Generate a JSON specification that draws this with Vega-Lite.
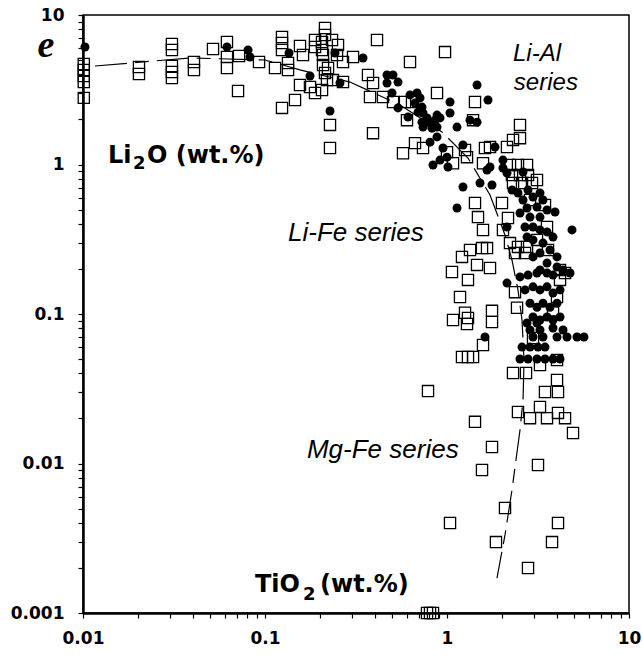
{
  "$schema": "https://vega.github.io/schema/vega-lite/v6.json",
  "width": 546,
  "height": 598,
  "autosize": {"type": "none"},
  "padding": {"left": 83, "top": 15, "right": 13, "bottom": 42},
  "background": "white",
  "config": {
    "view": {"stroke": "black", "strokeWidth": 1.5},
    "axis": {
      "grid": false,
      "domainColor": "black",
      "domainWidth": 2.5,
      "tickColor": "black",
      "tickWidth": 1.2,
      "tickSize": 5,
      "labelColor": "black",
      "labelFont": "DejaVu Sans",
      "labelFontWeight": "bold",
      "labelFontSize": 17,
      "labelFlush": false,
      "labelOverlap": false,
      "title": null
    }
  },
  "datasets": {
    "curve": [
      {"i": 1, "x": 0.01164, "y": 4.56},
      {"i": 2, "x": 0.0387, "y": 5.16},
      {"i": 3, "x": 0.1, "y": 5.0},
      {"i": 4, "x": 0.1557, "y": 4.29},
      {"i": 5, "x": 0.293, "y": 3.56},
      {"i": 6, "x": 0.552, "y": 2.5},
      {"i": 7, "x": 0.939, "y": 1.65},
      {"i": 8, "x": 1.304, "y": 1.105},
      {"i": 9, "x": 1.723, "y": 0.625},
      {"i": 10, "x": 2.083, "y": 0.3376},
      {"i": 11, "x": 2.275, "y": 0.2298},
      {"i": 12, "x": 2.455, "y": 0.1447},
      {"i": 13, "x": 2.583, "y": 0.0912},
      {"i": 14, "x": 2.65, "y": 0.0492},
      {"i": 15, "x": 2.617, "y": 0.0266},
      {"i": 16, "x": 2.518, "y": 0.01675},
      {"i": 17, "x": 2.275, "y": 0.00665},
      {"i": 18, "x": 2.083, "y": 0.00333},
      {"i": 19, "x": 1.882, "y": 0.00171}
    ],
    "squares": [
      {"x": 0.0101, "y": 4.70}, {"x": 0.0101, "y": 4.29}, {"x": 0.0101, "y": 3.91}, {"x": 0.0101, "y": 3.56}, {"x": 0.0101, "y": 2.79},
      {"x": 0.0203, "y": 4.49}, {"x": 0.0203, "y": 4.03},
      {"x": 0.0308, "y": 6.40}, {"x": 0.0308, "y": 5.83}, {"x": 0.0308, "y": 4.56}, {"x": 0.0308, "y": 4.16}, {"x": 0.0308, "y": 3.79},
      {"x": 0.0407, "y": 4.85}, {"x": 0.0407, "y": 4.29},
      {"x": 0.0518, "y": 5.92},
      {"x": 0.0618, "y": 6.60}, {"x": 0.0618, "y": 5.24}, {"x": 0.0618, "y": 4.42},
      {"x": 0.0720, "y": 5.32}, {"x": 0.0711, "y": 3.10},
      {"x": 0.0927, "y": 4.85}, {"x": 0.1135, "y": 4.42},
      {"x": 0.124, "y": 7.13}, {"x": 0.124, "y": 6.50}, {"x": 0.124, "y": 5.83},
      {"x": 0.1338, "y": 4.77}, {"x": 0.1338, "y": 4.29},
      {"x": 0.1557, "y": 6.20}, {"x": 0.1617, "y": 5.40}, {"x": 0.1557, "y": 3.40},
      {"x": 0.1462, "y": 2.70}, {"x": 0.124, "y": 2.39},
      {"x": 0.1767, "y": 3.30}, {"x": 0.1883, "y": 3.01}, {"x": 0.1883, "y": 6.81}, {"x": 0.1883, "y": 6.11},
      {"x": 0.2136, "y": 8.19}, {"x": 0.2136, "y": 7.35}, {"x": 0.2057, "y": 6.60}, {"x": 0.2057, "y": 5.83},
      {"x": 0.2083, "y": 5.40}, {"x": 0.2334, "y": 6.81}, {"x": 0.2083, "y": 4.63}, {"x": 0.2219, "y": 4.42},
      {"x": 0.2136, "y": 4.09}, {"x": 0.2191, "y": 3.67}, {"x": 0.2364, "y": 3.67}, {"x": 0.2683, "y": 3.56},
      {"x": 0.3045, "y": 5.24}, {"x": 0.2057, "y": 3.15}, {"x": 0.2276, "y": 1.84}, {"x": 0.2276, "y": 1.29},
      {"x": 0.3681, "y": 3.97}, {"x": 0.3776, "y": 2.83}, {"x": 0.2683, "y": 4.85}, {"x": 0.2518, "y": 6.30},
      {"x": 0.2487, "y": 5.40}, {"x": 0.4125, "y": 6.81}, {"x": 0.6262, "y": 4.85}, {"x": 0.975, "y": 5.65},
      {"x": 0.3922, "y": 3.51}, {"x": 0.4450, "y": 2.83}, {"x": 0.5050, "y": 2.62}, {"x": 0.5878, "y": 2.62},
      {"x": 0.6423, "y": 2.62}, {"x": 0.8813, "y": 3.01}, {"x": 1.425, "y": 2.62}, {"x": 0.6028, "y": 1.98},
      {"x": 0.3922, "y": 1.62}, {"x": 0.6671, "y": 1.39}, {"x": 0.7382, "y": 1.29}, {"x": 0.5731, "y": 1.19},
      {"x": 1.0, "y": 1.21}, {"x": 1.079, "y": 1.02}, {"x": 1.256, "y": 1.25}, {"x": 1.288, "y": 1.12},
      {"x": 1.577, "y": 1.02}, {"x": 1.617, "y": 1.29}, {"x": 2.518, "y": 1.84}, {"x": 2.518, "y": 1.50},
      {"x": 1.723, "y": 1.31}, {"x": 2.136, "y": 1.31}, {"x": 2.305, "y": 1.46},
      {"x": 2.219, "y": 0.992}, {"x": 2.455, "y": 0.992}, {"x": 2.752, "y": 0.992},
      {"x": 2.276, "y": 0.851}, {"x": 2.518, "y": 0.851}, {"x": 2.787, "y": 0.851},
      {"x": 2.305, "y": 0.752}, {"x": 2.583, "y": 0.752}, {"x": 2.931, "y": 0.752}, {"x": 3.122, "y": 0.788},
      {"x": 1.425, "y": 0.553}, {"x": 1.480, "y": 0.445}, {"x": 1.577, "y": 0.365},
      {"x": 2.005, "y": 0.553}, {"x": 2.163, "y": 0.439}, {"x": 2.030, "y": 0.365},
      {"x": 2.219, "y": 0.298}, {"x": 2.455, "y": 0.281}, {"x": 2.752, "y": 0.281}, {"x": 2.364, "y": 0.256},
      {"x": 2.683, "y": 0.256}, {"x": 3.544, "y": 0.382}, {"x": 4.178, "y": 0.197}, {"x": 4.451, "y": 0.188},
      {"x": 1.338, "y": 0.268}, {"x": 1.209, "y": 0.241}, {"x": 1.557, "y": 0.276}, {"x": 1.659, "y": 0.276},
      {"x": 1.462, "y": 0.213}, {"x": 1.723, "y": 0.203}, {"x": 1.065, "y": 0.191}, {"x": 1.304, "y": 0.169},
      {"x": 1.179, "y": 0.130}, {"x": 1.256, "y": 0.102}, {"x": 1.304, "y": 0.094}, {"x": 1.288, "y": 0.0857},
      {"x": 1.079, "y": 0.0912}, {"x": 1.767, "y": 0.105}, {"x": 1.767, "y": 0.0884}, {"x": 1.577, "y": 0.062},
      {"x": 1.209, "y": 0.0516}, {"x": 1.304, "y": 0.0516}, {"x": 1.390, "y": 0.0516}, {"x": 0.7864, "y": 0.0305},
      {"x": 2.364, "y": 0.140}, {"x": 2.425, "y": 0.110}, {"x": 2.305, "y": 0.0403}, {"x": 2.717, "y": 0.0403},
      {"x": 3.243, "y": 0.0456}, {"x": 4.022, "y": 0.0362}, {"x": 3.455, "y": 0.0301}, {"x": 4.073, "y": 0.0301},
      {"x": 2.455, "y": 0.0221}, {"x": 3.243, "y": 0.0239}, {"x": 2.858, "y": 0.0201}, {"x": 3.544, "y": 0.0201},
      {"x": 4.073, "y": 0.0218}, {"x": 4.451, "y": 0.0201}, {"x": 4.924, "y": 0.016}, {"x": 1.425, "y": 0.019},
      {"x": 1.767, "y": 0.0129}, {"x": 1.557, "y": 0.00904}, {"x": 3.162, "y": 0.00977}, {"x": 2.083, "y": 0.00504},
      {"x": 1.039, "y": 0.004}, {"x": 4.073, "y": 0.004}, {"x": 1.858, "y": 0.00298}, {"x": 3.776, "y": 0.00298},
      {"x": 2.787, "y": 0.002}, {"x": 0.7765, "y": 0.001}, {"x": 0.8065, "y": 0.001}, {"x": 0.8378, "y": 0.001},
      {"x": 4.178, "y": 0.169}, {"x": 4.022, "y": 0.130}, {"x": 3.823, "y": 0.106}, {"x": 2.969, "y": 0.0691},
      {"x": 4.022, "y": 0.0492}, {"x": 2.858, "y": 0.579}, {"x": 3.455, "y": 0.536}, {"x": 3.122, "y": 0.313},
      {"x": 3.589, "y": 0.268}, {"x": 1.390, "y": 1.98}
    ],
    "circles": [
      {"x": 0.01025, "y": 6.11}, {"x": 0.0618, "y": 6.11}, {"x": 0.0807, "y": 5.83}, {"x": 0.0827, "y": 5.24},
      {"x": 0.1355, "y": 5.57}, {"x": 0.1767, "y": 3.91}, {"x": 0.2425, "y": 5.57}, {"x": 0.2582, "y": 3.51},
      {"x": 0.3455, "y": 5.16}, {"x": 0.2276, "y": 2.28}, {"x": 0.468, "y": 3.97}, {"x": 0.505, "y": 3.97},
      {"x": 0.5381, "y": 3.56}, {"x": 0.468, "y": 3.51}, {"x": 0.4987, "y": 3.01}, {"x": 0.5381, "y": 2.39},
      {"x": 0.6105, "y": 2.08}, {"x": 0.6262, "y": 2.92}, {"x": 0.6843, "y": 3.01}, {"x": 0.7107, "y": 2.79},
      {"x": 0.6671, "y": 2.58}, {"x": 0.7289, "y": 2.42}, {"x": 0.693, "y": 2.24}, {"x": 0.7382, "y": 2.21},
      {"x": 0.7765, "y": 2.05}, {"x": 0.7289, "y": 1.92}, {"x": 0.8065, "y": 1.89}, {"x": 0.8593, "y": 1.98},
      {"x": 0.8813, "y": 2.14}, {"x": 0.9154, "y": 2.05}, {"x": 0.8813, "y": 1.78}, {"x": 0.8273, "y": 1.75},
      {"x": 0.7382, "y": 1.78}, {"x": 1.039, "y": 2.62}, {"x": 1.039, "y": 2.21}, {"x": 1.135, "y": 1.78},
      {"x": 0.8813, "y": 1.53}, {"x": 1.462, "y": 3.40}, {"x": 1.680, "y": 2.70}, {"x": 1.338, "y": 1.98},
      {"x": 1.462, "y": 1.92}, {"x": 0.8065, "y": 1.41}, {"x": 0.9506, "y": 1.29}, {"x": 1.0, "y": 1.12},
      {"x": 0.9154, "y": 1.07}, {"x": 1.0127, "y": 0.962}, {"x": 0.8378, "y": 0.992}, {"x": 1.224, "y": 1.35},
      {"x": 1.518, "y": 0.752}, {"x": 1.659, "y": 0.919}, {"x": 1.224, "y": 0.707}, {"x": 1.135, "y": 0.512},
      {"x": 1.767, "y": 0.729}, {"x": 1.835, "y": 1.31}, {"x": 2.030, "y": 0.947}, {"x": 2.136, "y": 0.877},
      {"x": 1.723, "y": 0.962}, {"x": 2.276, "y": 0.675}, {"x": 2.455, "y": 0.645}, {"x": 2.616, "y": 0.579},
      {"x": 2.787, "y": 0.675}, {"x": 2.969, "y": 0.606}, {"x": 3.243, "y": 0.645}, {"x": 3.369, "y": 0.579},
      {"x": 3.122, "y": 0.520}, {"x": 2.752, "y": 0.512}, {"x": 2.518, "y": 0.474}, {"x": 2.858, "y": 0.445},
      {"x": 3.243, "y": 0.445}, {"x": 3.544, "y": 0.496}, {"x": 3.922, "y": 0.481}, {"x": 2.683, "y": 0.382},
      {"x": 2.969, "y": 0.382}, {"x": 3.243, "y": 0.365}, {"x": 3.544, "y": 0.354}, {"x": 3.823, "y": 0.327},
      {"x": 2.969, "y": 0.313}, {"x": 3.369, "y": 0.298}, {"x": 2.752, "y": 0.327}, {"x": 3.681, "y": 0.268},
      {"x": 4.022, "y": 0.241}, {"x": 3.243, "y": 0.256}, {"x": 2.969, "y": 0.241}, {"x": 3.544, "y": 0.219},
      {"x": 4.022, "y": 0.206}, {"x": 4.340, "y": 0.197}, {"x": 3.243, "y": 0.197}, {"x": 3.823, "y": 0.182},
      {"x": 4.741, "y": 0.188}, {"x": 4.862, "y": 0.365}, {"x": 2.136, "y": 0.382}, {"x": 2.518, "y": 0.177},
      {"x": 2.136, "y": 0.161}, {"x": 2.787, "y": 0.182}, {"x": 3.122, "y": 0.188}, {"x": 3.544, "y": 0.188},
      {"x": 2.683, "y": 0.145}, {"x": 2.969, "y": 0.152}, {"x": 3.243, "y": 0.145}, {"x": 3.544, "y": 0.152},
      {"x": 3.823, "y": 0.138}, {"x": 4.178, "y": 0.145}, {"x": 2.858, "y": 0.118}, {"x": 3.122, "y": 0.111},
      {"x": 3.369, "y": 0.118}, {"x": 3.681, "y": 0.111}, {"x": 4.022, "y": 0.118}, {"x": 2.969, "y": 0.0955},
      {"x": 3.243, "y": 0.0912}, {"x": 3.544, "y": 0.0955}, {"x": 3.823, "y": 0.0912}, {"x": 4.178, "y": 0.0955},
      {"x": 2.858, "y": 0.0782}, {"x": 3.243, "y": 0.0782}, {"x": 3.823, "y": 0.0806}, {"x": 4.340, "y": 0.0782},
      {"x": 2.969, "y": 0.0702}, {"x": 3.369, "y": 0.0702}, {"x": 4.022, "y": 0.0702}, {"x": 4.564, "y": 0.0702},
      {"x": 5.180, "y": 0.0702}, {"x": 5.657, "y": 0.0702}, {"x": 1.617, "y": 0.0702}, {"x": 2.583, "y": 0.0601},
      {"x": 2.858, "y": 0.0601}, {"x": 3.162, "y": 0.0601}, {"x": 3.455, "y": 0.0601}, {"x": 2.518, "y": 0.05},
      {"x": 2.787, "y": 0.05}, {"x": 3.122, "y": 0.05}, {"x": 3.455, "y": 0.05}, {"x": 3.823, "y": 0.05},
      {"x": 4.178, "y": 0.05}, {"x": 2.752, "y": 0.0871}, {"x": 3.122, "y": 0.0871}, {"x": 2.030, "y": 1.07},
      {"x": 2.616, "y": 0.891}
    ],
    "boldLabels": [
      {"x": 0.01372, "y": 1.023, "label": "Li"},
      {"x": 0.02247, "y": 1.023, "label": "O (wt.%)"},
      {"x": 0.0881, "y": 0.00138, "label": "TiO"},
      {"x": 0.2005, "y": 0.00138, "label": "(wt.%)"}
    ],
    "subscripts": [
      {"x": 0.01882, "y": 0.933, "label": "2"},
      {"x": 0.1617, "y": 0.001222, "label": "2"}
    ],
    "italicLabels": [
      {"x": 0.1338, "y": 0.3077, "label": "Li-Fe series"},
      {"x": 0.170, "y": 0.01088, "label": "Mg-Fe series"}
    ],
    "cornerLabel": [
      {"x": 2.305, "y": 4.9, "label": "Li-Al"},
      {"x": 2.33, "y": 3.15, "label": "series"}
    ],
    "eLabel": [
      {"x": 0.00626, "y": 5.24, "label": "e"}
    ]
  },
  "encoding": {
    "x": {
      "field": "x", "type": "quantitative",
      "scale": {"type": "log", "domain": [0.01, 10], "nice": false},
      "axis": {
        "values": [0.01,0.02,0.03,0.04,0.05,0.06,0.07,0.08,0.09,0.1,0.2,0.3,0.4,0.5,0.6,0.7,0.8,0.9,1,2,3,4,5,6,7,8,9,10],
        "labelExpr": "indexof([0.01,0.1,1,10], datum.value) >= 0 ? format(datum.value, '~g') : ''",
        "labelPadding": 12
      }
    },
    "y": {
      "field": "y", "type": "quantitative",
      "scale": {"type": "log", "domain": [0.001, 10], "nice": false},
      "axis": {
        "values": [0.001,0.002,0.003,0.004,0.005,0.006,0.007,0.008,0.009,0.01,0.02,0.03,0.04,0.05,0.06,0.07,0.08,0.09,0.1,0.2,0.3,0.4,0.5,0.6,0.7,0.8,0.9,1,2,3,4,5,6,7,8,9,10],
        "labelExpr": "indexof([0.001,0.01,0.1,1,10], datum.value) >= 0 ? format(datum.value, '~g') : ''",
        "labelPadding": 14
      }
    }
  },
  "layer": [
    {
      "data": {"name": "curve"},
      "mark": {"type": "line", "stroke": "black", "strokeWidth": 1.2, "strokeDash": [32, 8, 14, 8]},
      "encoding": {"order": {"field": "i", "type": "quantitative"}}
    },
    {
      "data": {"name": "squares"},
      "mark": {"type": "point", "shape": "square", "size": 125, "filled": false, "stroke": "black", "strokeWidth": 1.3, "opacity": 1}
    },
    {
      "data": {"name": "circles"},
      "mark": {"type": "point", "shape": "circle", "size": 81, "filled": true, "color": "black", "opacity": 1}
    },
    {
      "data": {"name": "boldLabels"},
      "mark": {"type": "text", "align": "left", "baseline": "alphabetic", "font": "DejaVu Sans", "fontWeight": "bold", "fontSize": 24, "color": "black"},
      "encoding": {"text": {"field": "label"}}
    },
    {
      "data": {"name": "subscripts"},
      "mark": {"type": "text", "align": "left", "baseline": "alphabetic", "font": "DejaVu Sans", "fontWeight": "bold", "fontSize": 18, "color": "black"},
      "encoding": {"text": {"field": "label"}}
    },
    {
      "data": {"name": "italicLabels"},
      "mark": {"type": "text", "align": "left", "baseline": "alphabetic", "font": "Liberation Sans", "fontStyle": "italic", "fontSize": 26, "color": "black"},
      "encoding": {"text": {"field": "label"}}
    },
    {
      "data": {"name": "cornerLabel"},
      "mark": {"type": "text", "align": "left", "baseline": "alphabetic", "font": "Liberation Sans", "fontStyle": "italic", "fontSize": 24, "color": "black"},
      "encoding": {"text": {"field": "label"}}
    },
    {
      "data": {"name": "eLabel"},
      "mark": {"type": "text", "align": "center", "baseline": "alphabetic", "font": "Liberation Serif", "fontStyle": "italic", "fontWeight": "bold", "fontSize": 38, "color": "black"},
      "encoding": {"text": {"field": "label"}}
    }
  ]
}
